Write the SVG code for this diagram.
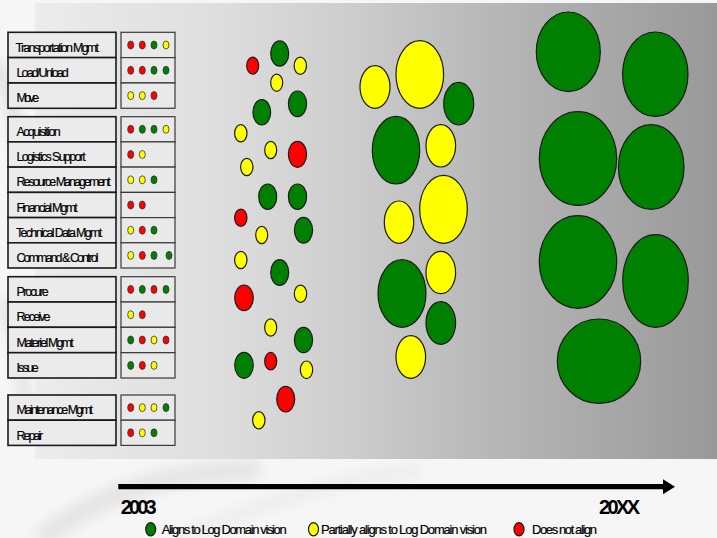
<svg xmlns="http://www.w3.org/2000/svg" width="717" height="538" viewBox="0 0 717 538">
  <defs>
    <linearGradient id="panelGrad" x1="0" y1="0" x2="1" y2="0">
      <stop offset="0" stop-color="#ececec"/>
      <stop offset="0.28" stop-color="#dddddd"/>
      <stop offset="0.46" stop-color="#cdcdcd"/>
      <stop offset="0.68" stop-color="#b6b6b6"/>
      <stop offset="1" stop-color="#999999"/>
    </linearGradient>
    <filter id="soft" x="-20%" y="-20%" width="140%" height="140%">
      <feGaussianBlur stdDeviation="6"/>
    </filter>
    <marker id="arrowHead" viewBox="0 0 12 15" refX="0" refY="7.5" markerWidth="12" markerHeight="15" markerUnits="userSpaceOnUse" orient="auto">
      <path d="M0,0 L12,7.5 L0,15 Z" fill="#000"/>
    </marker>
    <style>
      .lbl{fill:#ebebeb;stroke:#1a1a1a;stroke-width:1.6}
      .val{fill:#e9e9e9;stroke:#3a3a3a;stroke-width:1.2}
      .txt{font-family:"Liberation Sans",Arial,sans-serif;font-size:12.5px;fill:#000;stroke:#000;stroke-width:0.2}
      .leg{font-family:"Liberation Sans",Arial,sans-serif;font-size:13px;fill:#000;stroke:#000;stroke-width:0.2}
      .yr{font-family:"Liberation Sans",Arial,sans-serif;font-size:20px;font-weight:bold;fill:#000}
      .r{fill:#ff0000}
      .y{fill:#ffff00}
      .g{fill:#008000}
      .dot ellipse{stroke:#333;stroke-width:0.8}
      .bub ellipse{stroke:#1a1a1a;stroke-width:1.2}
    </style>
  </defs>

  <!-- background -->
  <rect x="0" y="0" width="717" height="538" fill="#f6f6f6"/>
  <g filter="url(#soft)" opacity="0.8">
    <path d="M-10,60 C20,90 10,140 30,190" stroke="#dcdcdc" stroke-width="14" fill="none"/>
    <path d="M0,300 C20,330 15,380 35,420" stroke="#e0e0e0" stroke-width="12" fill="none"/>
    <path d="M40,540 C90,500 160,470 260,470" stroke="#e2e2e2" stroke-width="22" fill="none"/>
    <path d="M180,538 C260,505 330,480 420,470" stroke="#ececec" stroke-width="16" fill="none"/>
  </g>
  <rect x="35" y="3" width="682" height="456" fill="url(#panelGrad)"/>

  <!-- table rows -->
  <g id="row-transportation-mgmt">
    <rect class="lbl" x="8" y="32.3" width="108" height="25.3"/>
    <text class="txt" x="15.5" y="51.7" textLength="83.5" lengthAdjust="spacing">Transportation Mgmt</text>
    <rect class="val" x="121" y="32.3" width="54" height="25.3"/>
    <g class="dot"><ellipse class="r" cx="130.7" cy="45" rx="3" ry="4"/><ellipse class="r" cx="142.3" cy="45" rx="3" ry="4"/><ellipse class="g" cx="154" cy="45" rx="3" ry="4"/><ellipse class="y" cx="166" cy="45" rx="3" ry="4"/></g>
  </g>
  <g id="row-load-unload">
    <rect class="lbl" x="8" y="57.6" width="108" height="25.3"/>
    <text class="txt" x="16.5" y="77" textLength="52.3" lengthAdjust="spacing">Load/Unload</text>
    <rect class="val" x="121" y="57.6" width="54" height="25.3"/>
    <g class="dot"><ellipse class="r" cx="130.7" cy="70.3" rx="3" ry="4"/><ellipse class="r" cx="142.3" cy="70.3" rx="3" ry="4"/><ellipse class="g" cx="154" cy="70.3" rx="3" ry="4"/><ellipse class="g" cx="166" cy="70.3" rx="3" ry="4"/></g>
  </g>
  <g id="row-move">
    <rect class="lbl" x="8" y="83" width="108" height="25.3"/>
    <text class="txt" x="16.5" y="102" textLength="22.6" lengthAdjust="spacing">Move</text>
    <rect class="val" x="121" y="83" width="54" height="25.3"/>
    <g class="dot"><ellipse class="y" cx="130.7" cy="95.6" rx="3" ry="4"/><ellipse class="y" cx="142.3" cy="95.6" rx="3" ry="4"/><ellipse class="r" cx="154" cy="95.6" rx="3" ry="4"/></g>
  </g>

  <g id="row-acquisition">
    <rect class="lbl" x="8" y="116.7" width="108" height="25.2"/>
    <text class="txt" x="16.5" y="136" textLength="44.3" lengthAdjust="spacing">Acquisition</text>
    <rect class="val" x="121" y="116.7" width="54" height="25.2"/>
    <g class="dot"><ellipse class="r" cx="130.7" cy="129.3" rx="3" ry="4"/><ellipse class="g" cx="142.3" cy="129.3" rx="3" ry="4"/><ellipse class="g" cx="154" cy="129.3" rx="3" ry="4"/><ellipse class="y" cx="166" cy="129.3" rx="3" ry="4"/></g>
  </g>
  <g id="row-logistics-support">
    <rect class="lbl" x="8" y="141.9" width="108" height="25.2"/>
    <text class="txt" x="16.5" y="161.2" textLength="69.3" lengthAdjust="spacing">Logistics Support</text>
    <rect class="val" x="121" y="141.9" width="54" height="25.2"/>
    <g class="dot"><ellipse class="r" cx="130.7" cy="154.5" rx="3" ry="4"/><ellipse class="y" cx="142.3" cy="154.5" rx="3" ry="4"/></g>
  </g>
  <g id="row-resource-management">
    <rect class="lbl" x="8" y="167.1" width="108" height="25.3"/>
    <text class="txt" x="16.5" y="186.4" textLength="94.3" lengthAdjust="spacing">Resource Management</text>
    <rect class="val" x="121" y="167.1" width="54" height="25.3"/>
    <g class="dot"><ellipse class="y" cx="130.7" cy="179.8" rx="3" ry="4"/><ellipse class="y" cx="142.3" cy="179.8" rx="3" ry="4"/><ellipse class="g" cx="154" cy="179.8" rx="3" ry="4"/></g>
  </g>
  <g id="row-financial-mgmt">
    <rect class="lbl" x="8" y="192.4" width="108" height="25.2"/>
    <text class="txt" x="16.5" y="211.7" textLength="61.3" lengthAdjust="spacing">Financial Mgmt</text>
    <rect class="val" x="121" y="192.4" width="54" height="25.2"/>
    <g class="dot"><ellipse class="r" cx="130.7" cy="205" rx="3" ry="4"/><ellipse class="r" cx="142.3" cy="205" rx="3" ry="4"/></g>
  </g>
  <g id="row-technical-data-mgmt">
    <rect class="lbl" x="8" y="217.6" width="108" height="25.2"/>
    <text class="txt" x="16" y="236.9" textLength="86.3" lengthAdjust="spacing">Technical Data Mgmt</text>
    <rect class="val" x="121" y="217.6" width="54" height="25.2"/>
    <g class="dot"><ellipse class="y" cx="130.7" cy="230.2" rx="3" ry="4"/><ellipse class="r" cx="142.3" cy="230.2" rx="3" ry="4"/><ellipse class="g" cx="154" cy="230.2" rx="3" ry="4"/></g>
  </g>
  <g id="row-command-control">
    <rect class="lbl" x="8" y="242.8" width="108" height="25.2"/>
    <text class="txt" x="16.5" y="262.1" textLength="82" lengthAdjust="spacing">Command &amp; Control</text>
    <rect class="val" x="121" y="242.8" width="54" height="25.2"/>
    <g class="dot"><ellipse class="y" cx="130.7" cy="255.4" rx="3" ry="4"/><ellipse class="r" cx="142.3" cy="255.4" rx="3" ry="4"/><ellipse class="g" cx="154" cy="255.4" rx="3" ry="4"/><ellipse class="g" cx="169" cy="255.4" rx="3" ry="4"/></g>
  </g>

  <g id="row-procure">
    <rect class="lbl" x="8" y="276.7" width="108" height="25.3"/>
    <text class="txt" x="16.5" y="296" textLength="32.3" lengthAdjust="spacing">Procure</text>
    <rect class="val" x="121" y="276.7" width="54" height="25.3"/>
    <g class="dot"><ellipse class="r" cx="130.7" cy="289.4" rx="3" ry="4"/><ellipse class="g" cx="142.3" cy="289.4" rx="3" ry="4"/><ellipse class="r" cx="154" cy="289.4" rx="3" ry="4"/><ellipse class="g" cx="166" cy="289.4" rx="3" ry="4"/></g>
  </g>
  <g id="row-receive">
    <rect class="lbl" x="8" y="302" width="108" height="25.3"/>
    <text class="txt" x="16.5" y="321.3" textLength="34" lengthAdjust="spacing">Receive</text>
    <rect class="val" x="121" y="302" width="54" height="25.3"/>
    <g class="dot"><ellipse class="y" cx="130.7" cy="314.7" rx="3" ry="4"/><ellipse class="r" cx="142.3" cy="314.7" rx="3" ry="4"/></g>
  </g>
  <g id="row-materiel-mgmt">
    <rect class="lbl" x="8" y="327.3" width="108" height="25.4"/>
    <text class="txt" x="16.5" y="346.6" textLength="57.3" lengthAdjust="spacing">Materiel Mgmt</text>
    <rect class="val" x="121" y="327.3" width="54" height="25.4"/>
    <g class="dot"><ellipse class="g" cx="130.7" cy="340" rx="3" ry="4"/><ellipse class="r" cx="142.3" cy="340" rx="3" ry="4"/><ellipse class="y" cx="154" cy="340" rx="3" ry="4"/><ellipse class="r" cx="166" cy="340" rx="3" ry="4"/></g>
  </g>
  <g id="row-issue">
    <rect class="lbl" x="8" y="352.7" width="108" height="25.3"/>
    <text class="txt" x="16.5" y="372" textLength="22.3" lengthAdjust="spacing">Issue</text>
    <rect class="val" x="121" y="352.7" width="54" height="25.3"/>
    <g class="dot"><ellipse class="g" cx="130.7" cy="365.4" rx="3" ry="4"/><ellipse class="r" cx="142.3" cy="365.4" rx="3" ry="4"/><ellipse class="y" cx="154" cy="365.4" rx="3" ry="4"/></g>
  </g>

  <g id="row-maintenance-mgmt">
    <rect class="lbl" x="8" y="395" width="108" height="25.2"/>
    <text class="txt" x="16.5" y="414.3" textLength="76.6" lengthAdjust="spacing">Maintenance Mgmt</text>
    <rect class="val" x="121" y="395" width="54" height="25.2"/>
    <g class="dot"><ellipse class="r" cx="130.7" cy="407.6" rx="3" ry="4"/><ellipse class="y" cx="142.3" cy="407.6" rx="3" ry="4"/><ellipse class="y" cx="154" cy="407.6" rx="3" ry="4"/><ellipse class="g" cx="166" cy="407.6" rx="3" ry="4"/></g>
  </g>
  <g id="row-repair">
    <rect class="lbl" x="8" y="420.2" width="108" height="25.2"/>
    <text class="txt" x="16.5" y="439.5" textLength="26.6" lengthAdjust="spacing">Repair</text>
    <rect class="val" x="121" y="420.2" width="54" height="25.2"/>
    <g class="dot"><ellipse class="r" cx="130.7" cy="432.8" rx="3" ry="4"/><ellipse class="y" cx="142.3" cy="432.8" rx="3" ry="4"/><ellipse class="g" cx="154" cy="432.8" rx="3" ry="4"/></g>
  </g>

  <!-- 2003 cluster -->
  <g id="cluster-2003" class="bub">
    <ellipse class="r" cx="252.7" cy="65.7" rx="6" ry="8.5"/>
    <ellipse class="g" cx="279.7" cy="53.5" rx="9" ry="12.6"/>
    <ellipse class="y" cx="300.3" cy="65.8" rx="6.2" ry="8.6"/>
    <ellipse class="y" cx="276.7" cy="82.7" rx="6" ry="8.6"/>
    <ellipse class="g" cx="261.8" cy="112.3" rx="8.9" ry="12.7"/>
    <ellipse class="g" cx="297.5" cy="103.8" rx="9.1" ry="12.8"/>
    <ellipse class="y" cx="240.8" cy="133.3" rx="6.2" ry="8.6"/>
    <ellipse class="y" cx="270.7" cy="150" rx="6" ry="8.7"/>
    <ellipse class="r" cx="297.5" cy="154.3" rx="9.1" ry="13"/>
    <ellipse class="y" cx="246.8" cy="167" rx="6.2" ry="8.6"/>
    <ellipse class="g" cx="267.7" cy="196.7" rx="9" ry="12.7"/>
    <ellipse class="g" cx="297.5" cy="196.7" rx="9.1" ry="12.7"/>
    <ellipse class="r" cx="240.8" cy="217.8" rx="6.2" ry="8.7"/>
    <ellipse class="y" cx="261.7" cy="235" rx="6" ry="8.6"/>
    <ellipse class="g" cx="303.5" cy="230.3" rx="9.1" ry="12.9"/>
    <ellipse class="y" cx="240.8" cy="260" rx="6.2" ry="8.6"/>
    <ellipse class="g" cx="279.7" cy="272.5" rx="9" ry="12.8"/>
    <ellipse class="r" cx="244" cy="297.8" rx="9.3" ry="12.8"/>
    <ellipse class="y" cx="300.5" cy="293.7" rx="6.2" ry="8.6"/>
    <ellipse class="y" cx="270.7" cy="327.5" rx="6" ry="8.7"/>
    <ellipse class="g" cx="303.5" cy="340" rx="9.1" ry="12.7"/>
    <ellipse class="g" cx="244" cy="365.3" rx="9.3" ry="13"/>
    <ellipse class="r" cx="270.7" cy="361.2" rx="6" ry="8.8"/>
    <ellipse class="y" cx="306.5" cy="369.8" rx="6.2" ry="8.8"/>
    <ellipse class="r" cx="285.7" cy="399.2" rx="9" ry="12.8"/>
    <ellipse class="y" cx="258.8" cy="420.3" rx="6.2" ry="8.6"/>
  </g>

  <!-- middle cluster -->
  <g id="cluster-middle" class="bub">
    <ellipse class="y" cx="375" cy="87" rx="15" ry="21.3"/>
    <ellipse class="y" cx="419.8" cy="74.5" rx="23.8" ry="33.8"/>
    <ellipse class="g" cx="458.7" cy="103.7" rx="15" ry="21.3"/>
    <ellipse class="g" cx="396" cy="150.2" rx="23.7" ry="33.8"/>
    <ellipse class="y" cx="440.8" cy="145.8" rx="14.8" ry="21.2"/>
    <ellipse class="y" cx="399" cy="222.2" rx="14.7" ry="21.2"/>
    <ellipse class="y" cx="443.5" cy="209.3" rx="23.8" ry="34"/>
    <ellipse class="y" cx="440.8" cy="272.5" rx="14.8" ry="21.2"/>
    <ellipse class="g" cx="402" cy="293.5" rx="24" ry="33.8"/>
    <ellipse class="g" cx="440.8" cy="323" rx="14.8" ry="21.3"/>
    <ellipse class="y" cx="410.8" cy="357" rx="14.8" ry="21.3"/>
  </g>

  <!-- 20XX cluster -->
  <g id="cluster-20xx" class="bub">
    <ellipse class="g" cx="568.3" cy="51.8" rx="32" ry="39.8"/>
    <ellipse class="g" cx="655.3" cy="74.2" rx="32.7" ry="42.2"/>
    <ellipse class="g" cx="578" cy="158.5" rx="38.7" ry="46.8"/>
    <ellipse class="g" cx="651.2" cy="167" rx="32.8" ry="42.3"/>
    <ellipse class="g" cx="578" cy="262" rx="38.7" ry="46.3"/>
    <ellipse class="g" cx="655.5" cy="281" rx="32.8" ry="46.3"/>
    <ellipse class="g" cx="599" cy="361.2" rx="41.7" ry="42.2"/>
  </g>

  <!-- connectors: timeline -->
  <g id="connectors">
    <line x1="118.3" y1="486.7" x2="663" y2="486.7" stroke="#000" stroke-width="5.3" marker-end="url(#arrowHead)"/>
  </g>

  <g id="timeline-labels">
    <text class="yr" x="120.7" y="513.5" textLength="36" lengthAdjust="spacing">2003</text>
    <text class="yr" x="599" y="513.5" textLength="41" lengthAdjust="spacing">20XX</text>
  </g>

  <!-- legend -->
  <g id="legend">
    <g class="bub">
      <ellipse class="g" cx="150.7" cy="529.3" rx="5" ry="6.6"/>
      <ellipse class="y" cx="313.5" cy="529.3" rx="5" ry="6.6"/>
      <ellipse class="r" cx="519" cy="529.3" rx="5" ry="6.6"/>
    </g>
    <text class="leg" x="161.7" y="533.5" textLength="125" lengthAdjust="spacing">Aligns to Log Domain vision</text>
    <text class="leg" x="321" y="533.5" textLength="166" lengthAdjust="spacing">Partially aligns to Log Domain vision</text>
    <text class="leg" x="532" y="533.5" textLength="65" lengthAdjust="spacing">Does not align</text>
  </g>
</svg>
